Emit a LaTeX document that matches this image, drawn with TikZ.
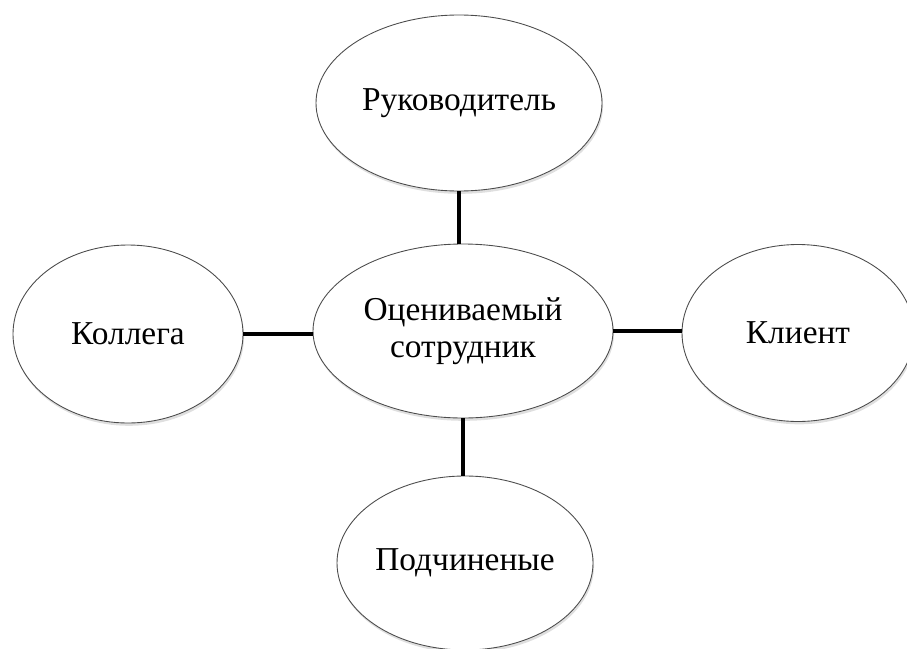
\documentclass[tikz,border=0pt]{standalone}
\usepackage{fontspec}
\setmainfont{Liberation Serif}
\usetikzlibrary{shapes.geometric,shadows}

\begin{document}
\begin{tikzpicture}[
  role/.style={ellipse,draw=black!70,line width=0.5pt,fill=white,inner sep=0pt,
    drop shadow={opacity=0.25,shadow xshift=0.6pt,shadow yshift=-1.6pt},
    align=center,font=\fontsize{19}{21}\selectfont},
  link/.style={line width=2.2pt}]
\useasboundingbox (0,0) rectangle (18.14,-12.96);
% узлы
\node[role,minimum width=5.72cm,minimum height=3.52cm] (ruk) at (9.18,-2.06) {Руководитель};
\node[role,minimum width=6.0cm,minimum height=3.48cm] (ots) at (9.26,-6.62) {Оцениваемый\\сотрудник};
\node[role,minimum width=4.6cm,minimum height=3.56cm] (kol) at (2.56,-6.68) {Коллега};
\node[role,minimum width=4.64cm,minimum height=3.54cm] (kli) at (15.96,-6.66) {Клиент};
\node[role,minimum width=5.12cm,minimum height=3.48cm] (pod) at (9.30,-11.26) {Подчиненые};
% связи
\draw[link](ruk.south)--(ruk.south|-ots.north)
  (kol.east)--(kol.east-|ots.west)
  (ots.east)--(ots.east-|kli.west)
  (ots.south)--(ots.south|-pod.north);
\end{tikzpicture}
\end{document}
